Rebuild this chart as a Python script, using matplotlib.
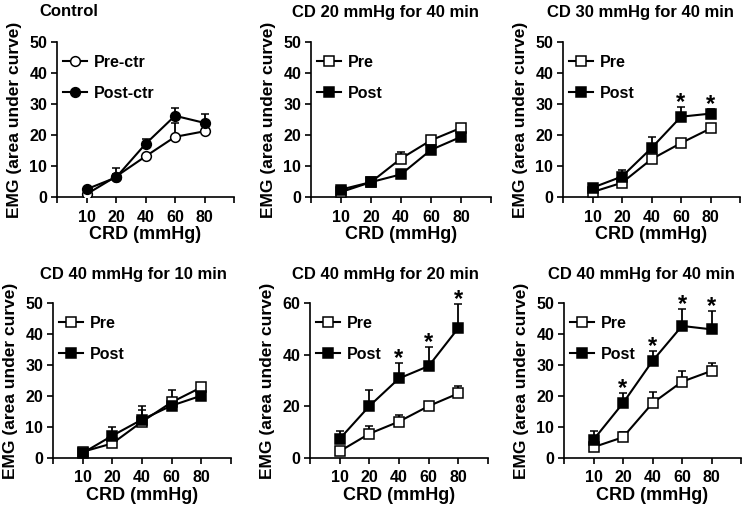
import matplotlib
matplotlib.use("Agg")
import matplotlib.pyplot as plt
from matplotlib.lines import Line2D

plt.rcParams['font.family'] = ['Liberation Sans', 'DejaVu Sans']
plt.rcParams['font.weight'] = 'bold'

crd = ["10", "20", "40", "60", "80"]

titles = ["Control", "CD 20 mmHg for 40 min", "CD 30 mmHg for 40 min",
          "CD 40 mmHg for 10 min", "CD 40 mmHg for 20 min", "CD 40 mmHg for 40 min"]
pre_labels = ["Pre-ctr", "Pre", "Pre", "Pre", "Pre", "Pre"]
post_labels = ["Post-ctr", "Post", "Post", "Post", "Post", "Post"]

pre_mean = [
    [0.9, 6.6, 13.1, 19.4, 21.2],
    [1.6, 4.8, 12.4, 18.3, 22.3],
    [1.6, 4.6, 12.2, 17.4, 22.1],
    [2.0, 4.7, 11.7, 18.0, 22.8],
    [2.6, 9.4, 14.1, 20.1, 25.0],
    [3.5, 6.7, 17.7, 24.6, 28.1],
]
pre_err = [
    [0.5, 2.6, 0.8, 4.4, 0.8],
    [0.5, 0.5, 2.0, 0.8, 0.6],
    [0.5, 0.6, 0.8, 1.3, 0.6],
    [0.5, 0.8, 3.8, 3.9, 0.6],
    [0.6, 2.8, 2.6, 1.1, 2.8],
    [0.8, 1.7, 3.5, 3.6, 2.6],
]
post_mean = [
    [2.5, 6.3, 17.1, 26.2, 23.9],
    [2.4, 4.8, 7.3, 15.2, 19.4],
    [3.0, 6.6, 15.8, 25.9, 26.9],
    [1.6, 7.2, 12.4, 16.9, 20.1],
    [7.4, 20.1, 30.8, 35.6, 50.3],
    [5.9, 17.7, 31.3, 42.6, 41.5],
]
post_err = [
    [0.5, 1.0, 1.6, 2.4, 2.9],
    [0.5, 0.5, 0.8, 0.8, 0.8],
    [0.6, 2.2, 3.6, 3.2, 1.6],
    [0.6, 2.9, 4.3, 0.8, 0.8],
    [2.9, 6.4, 6.0, 7.3, 9.3],
    [2.7, 3.4, 3.3, 5.6, 5.8],
]
# indices of CRD levels marked significant (*)
stars = [[], [], [3, 4], [], [2, 3, 4], [1, 2, 3, 4]]
ymax = [50, 50, 50, 50, 60, 50]
ystep = [10, 10, 10, 10, 20, 10]
circles = [True, False, False, False, False, False]

W, H = 744, 509
fig = plt.figure(figsize=(W / 100, H / 100), dpi=100)

# axes boxes in pixels: left, y of zero line, y of top, width
boxes = [(57, 197, 42, 177), (311, 197, 42, 180), (563, 197, 42, 177),
         (53, 458, 303, 178), (310, 458, 303, 178), (564, 458, 303, 177)]
title_pos = [(69, 11), (385, 12), (640, 12), (133, 274), (385, 275), (641, 275)]

for i in range(6):
    l, y0, y1, w = boxes[i]
    ax = fig.add_axes([l / W, (H - y0) / H, w / W, (y0 - y1) / H])
    x = list(range(1, 6))
    mk = 'o' if circles[i] else 's'
    ms = 7 if circles[i] else 6.5
    ax.errorbar(x, pre_mean[i], yerr=[[0] * 5, pre_err[i]], color='black',
                marker=mk, ms=ms, mfc='white', mec='black', mew=1.1, lw=1.5,
                capsize=3, elinewidth=1.3, capthick=1.3, zorder=3)
    ax.errorbar(x, post_mean[i], yerr=[[0] * 5, post_err[i]], color='black',
                marker=mk, ms=ms, mfc='black', mec='black', mew=1.1, lw=1.5,
                capsize=3, elinewidth=1.3, capthick=1.3, zorder=4)
    for j in stars[i]:
        top = post_mean[i][j] + post_err[i][j]
        ax.annotate("*", (x[j], top), xytext=(0, -5), textcoords='offset points',
                    ha='center', va='bottom', fontsize=17, fontweight='bold',
                    annotation_clip=False)

    ax.set_xlim(0, 6)
    ax.set_ylim(0, ymax[i])
    ax.set_xticks(range(0, 7))
    ax.set_xticklabels([""] + crd + [""])
    ax.set_yticks(range(0, ymax[i] + 1, ystep[i]))
    for s in ['top', 'right']:
        ax.spines[s].set_visible(False)
    for s in ['left', 'bottom']:
        ax.spines[s].set_linewidth(1.2)
    ax.tick_params(direction='out', length=4, width=1.2, labelsize=11.5, pad=3)
    ax.tick_params(axis='x', pad=5)
    ax.set_xlabel("CRD (mmHg)", fontsize=13, fontweight='bold', labelpad=1)
    ax.set_ylabel("EMG (area under curve)", fontsize=12.5, fontweight='bold', labelpad=5)
    handles = [
        Line2D([], [], color='black', lw=1.5, marker=mk, ms=ms, mfc='white', mec='black', mew=1.1),
        Line2D([], [], color='black', lw=1.5, marker=mk, ms=ms, mfc='black', mec='black', mew=1.1),
    ]
    ax.legend(handles, [pre_labels[i], post_labels[i]], loc='upper left',
              bbox_to_anchor=(0.0, 0.96), frameon=False,
              handlelength=1.5, handletextpad=0.4, labelspacing=1.0,
              prop={'weight': 'bold', 'size': 11.5}, borderaxespad=0)
    tx, ty = title_pos[i]
    fig.text(tx / W, 1 - ty / H, titles[i], ha='center', va='center',
             fontsize=12, fontweight='bold')

fig.savefig("out.png", dpi=100)
